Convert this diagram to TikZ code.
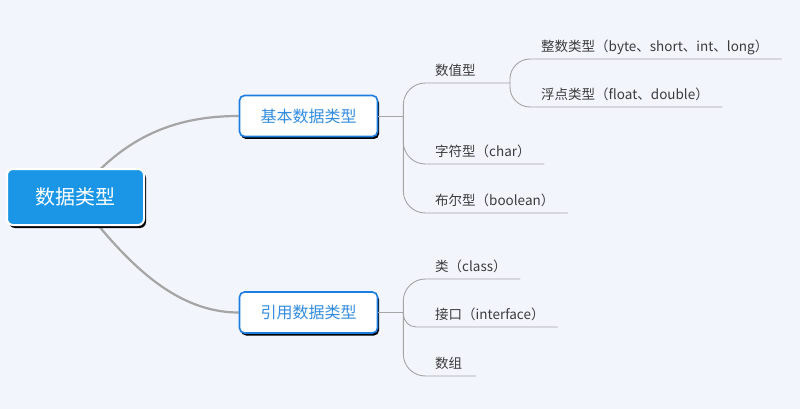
\documentclass[tikz,border=0pt]{standalone}
\usepackage{fontspec}
\setmainfont{Noto Sans CJK SC}
\usetikzlibrary{shadows,backgrounds}

\definecolor{bgcol}{RGB}{242,245,252}
\definecolor{rootblue}{RGB}{27,150,230}
\definecolor{edgeblue}{RGB}{30,125,225}
\definecolor{textblue}{RGB}{50,140,225}
\definecolor{linegray}{RGB}{165,165,165}
\definecolor{leafgray}{RGB}{60,60,60}

\begin{document}
\begin{tikzpicture}[x=1pt, y=-1pt, line cap=round,
  rootbox/.style={fill=rootblue, draw=white, line width=2pt, rounded corners=6pt,
    minimum width=137pt, minimum height=56pt, text=white,
    font=\fontsize{20}{24}\selectfont,
    drop shadow={shadow xshift=2pt, shadow yshift=-3pt, fill=black, opacity=1}},
  topicbox/.style={fill=white, draw=edgeblue, line width=1.6pt, rounded corners=5pt,
    minimum width=138pt, minimum height=41pt, text=textblue,
    font=\fontsize{16}{19}\selectfont,
    drop shadow={shadow xshift=1.5pt, shadow yshift=-2.5pt, fill=black, opacity=1}},
  leaf/.style={anchor=south west, inner xsep=13pt, inner ysep=4pt,
    text height=10pt, text depth=3pt, text=leafgray,
    font=\fontsize{13.5}{16}\selectfont},
  mainline/.style={draw=linegray, line width=2.2pt},
  subline/.style={draw=linegray, line width=0.9pt}]

  \useasboundingbox (0,0) rectangle (800,409);

  % topics
  \node[rootbox] (root) at (75.5,197) {数据类型};
  \node[topicbox] (basic) at (308.5,116) {基本数据类型};
  \node[topicbox] (ref) at (308.5,312.5) {引用数据类型};

  % leaves of the first topic
  \coordinate (jb) at ([xshift=25pt]basic.east);
  \node[leaf] (num) at (422,83) {数值型};
  \coordinate (jn) at (510,83);
  \node[leaf] (int) at (528,59) {整数类型（byte、short、int、long）};
  \node[leaf] (flt) at (528,107) {浮点类型（float、double）};
  \node[leaf] (chr) at (422,164) {字符型（char）};
  \node[leaf] (bool) at (422,213) {布尔型（boolean）};

  % leaves of the second topic
  \coordinate (jr) at ([xshift=25pt]ref.east);
  \node[leaf] (cls) at (422,279) {类（class）};
  \node[leaf] (ifc) at (422,327) {接口（interface）};
  \node[leaf] (arr) at (422,376) {数组};

  \begin{scope}[on background layer]
    \fill[bgcol] (0,0) rectangle (800,409);
    \draw[mainline] (root.center) .. controls (120,140) and (170,116) .. (basic.west);
    \draw[mainline] (root.center) .. controls (120,254) and (170,312.5) .. (ref.west);
  \end{scope}

  \draw[subline] (basic.east) -- (jb);
  \draw[subline, rounded corners=22pt] (jb) |- (jn);
  \draw[subline, rounded corners=20pt] (jn) |- (int.south east);
  \draw[subline, rounded corners=20pt] (jn) |- (flt.south east);
  \draw[subline, rounded corners=22pt] (jb) |- (chr.south east);
  \draw[subline, rounded corners=22pt] (jb) |- (bool.south east);

  \draw[subline] (ref.east) -- (jr);
  \draw[subline, rounded corners=22pt] (jr) |- (cls.south east);
  \draw[subline, rounded corners=13pt] (jr) |- (ifc.south east);
  \draw[subline, rounded corners=22pt] (jr) |- (arr.south east);
\end{tikzpicture}
\end{document}
